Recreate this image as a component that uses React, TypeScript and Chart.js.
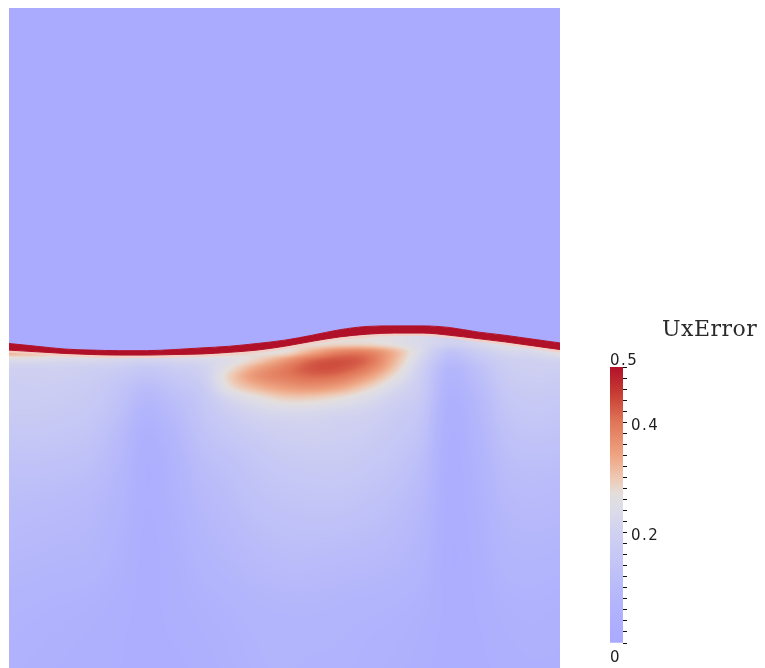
import React, { useEffect, useRef } from 'react';
import { Chart, registerables } from 'chart.js';

Chart.register(...registerables);

// Column positions across the domain (x) and sampling depths (y, top to bottom)
const colX = [0, 0.05, 0.1, 0.15, 0.2, 0.25, 0.3, 0.35, 0.4, 0.45, 0.5, 0.55, 0.6, 0.65, 0.7, 0.75, 0.8, 0.85, 0.9, 0.95, 1];
const rowY = [0.61, 0.59, 0.575, 0.56, 0.545, 0.53, 0.51, 0.49, 0.46, 0.42, 0.37, 0.3, 0.2, 0.1, 0];

// UxError samples: one row per depth in rowY, one value per column in colX
const uxError: number[][] = [
  [0.34, 0.33, 0.3, 0.28, 0.27, 0.26, 0.27, 0.28, 0.28, 0.28, 0.28, 0.27, 0.28, 0.28, 0.26, 0.23, 0.2, 0.22, 0.26, 0.27, 0.28],
  [0.34, 0.33, 0.3, 0.28, 0.27, 0.26, 0.27, 0.28, 0.29, 0.28, 0.28, 0.27, 0.28, 0.28, 0.26, 0.23, 0.2, 0.22, 0.26, 0.27, 0.28],
  [0.34, 0.33, 0.31, 0.3, 0.29, 0.28, 0.29, 0.3, 0.3, 0.27, 0.27, 0.33, 0.38, 0.38, 0.32, 0.23, 0.14, 0.18, 0.22, 0.23, 0.27],
  [0.24, 0.24, 0.23, 0.23, 0.22, 0.21, 0.22, 0.23, 0.25, 0.29, 0.35, 0.41, 0.43, 0.41, 0.32, 0.21, 0.11, 0.15, 0.19, 0.2, 0.21],
  [0.2, 0.2, 0.2, 0.19, 0.18, 0.16, 0.18, 0.2, 0.27, 0.34, 0.39, 0.43, 0.43, 0.39, 0.3, 0.19, 0.085, 0.125, 0.18, 0.19, 0.19],
  [0.19, 0.19, 0.19, 0.18, 0.16, 0.14, 0.16, 0.19, 0.29, 0.36, 0.39, 0.41, 0.4, 0.35, 0.27, 0.18, 0.07, 0.115, 0.17, 0.185, 0.18],
  [0.18, 0.185, 0.18, 0.17, 0.145, 0.11, 0.14, 0.17, 0.27, 0.32, 0.35, 0.36, 0.34, 0.29, 0.23, 0.17, 0.06, 0.1, 0.16, 0.175, 0.17],
  [0.18, 0.18, 0.175, 0.165, 0.135, 0.09, 0.12, 0.155, 0.22, 0.26, 0.29, 0.29, 0.27, 0.24, 0.2, 0.16, 0.05, 0.09, 0.15, 0.165, 0.16],
  [0.17, 0.17, 0.165, 0.155, 0.12, 0.065, 0.1, 0.145, 0.18, 0.21, 0.22, 0.22, 0.21, 0.2, 0.175, 0.145, 0.04, 0.08, 0.14, 0.155, 0.15],
  [0.155, 0.155, 0.15, 0.14, 0.1, 0.045, 0.08, 0.13, 0.155, 0.175, 0.19, 0.195, 0.19, 0.18, 0.16, 0.13, 0.035, 0.07, 0.125, 0.14, 0.135],
  [0.135, 0.135, 0.13, 0.12, 0.085, 0.035, 0.065, 0.11, 0.13, 0.15, 0.165, 0.17, 0.17, 0.16, 0.145, 0.11, 0.03, 0.06, 0.11, 0.12, 0.115],
  [0.115, 0.11, 0.105, 0.095, 0.07, 0.035, 0.055, 0.09, 0.11, 0.13, 0.14, 0.145, 0.145, 0.135, 0.12, 0.09, 0.03, 0.05, 0.09, 0.1, 0.095],
  [0.09, 0.085, 0.08, 0.075, 0.055, 0.03, 0.045, 0.07, 0.085, 0.1, 0.11, 0.11, 0.105, 0.1, 0.09, 0.07, 0.025, 0.04, 0.07, 0.075, 0.07],
  [0.065, 0.06, 0.055, 0.05, 0.04, 0.03, 0.04, 0.05, 0.06, 0.07, 0.075, 0.075, 0.07, 0.065, 0.06, 0.05, 0.03, 0.035, 0.05, 0.055, 0.05],
  [0.055, 0.05, 0.045, 0.04, 0.035, 0.025, 0.03, 0.04, 0.05, 0.06, 0.065, 0.06, 0.06, 0.055, 0.05, 0.04, 0.025, 0.03, 0.04, 0.045, 0.045],
];

// Free-surface band: upper and lower edge at each column
const bandTop = [0.59, 0.585, 0.58, 0.578, 0.577, 0.577, 0.579, 0.582, 0.585, 0.59, 0.596, 0.605, 0.615, 0.621, 0.622, 0.622, 0.619, 0.611, 0.605, 0.598, 0.591];
const bandBottom = [0.578, 0.575, 0.572, 0.57, 0.569, 0.569, 0.57, 0.571, 0.574, 0.578, 0.585, 0.594, 0.602, 0.607, 0.609, 0.609, 0.605, 0.599, 0.593, 0.586, 0.579];

// Colour bar
const fieldName = 'UxError';
const barRange = [0, 0.5];
const tickStep = 0.02;
const labelledTicks = [0.2, 0.4];
const endLabels = ['0', '0.5'];

// Cool-to-warm colour map (value -> rgb)
const cmapStops: [number, [number, number, number]][] = [
  [0.0, [170, 170, 255]],
  [0.05, [175, 177, 253]],
  [0.1, [184, 186, 250]],
  [0.15, [196, 198, 246]],
  [0.2, [208, 209, 240]],
  [0.24, [219, 219, 233]],
  [0.27, [228, 222, 220]],
  [0.3, [238, 200, 178]],
  [0.34, [238, 164, 130]],
  [0.4, [224, 118, 88]],
  [0.45, [200, 62, 52]],
  [0.5, [178, 18, 40]],
];
const bandRed = 'rgb(176, 16, 40)';

function colorAt(v: number): [number, number, number] {
  const lo = barRange[0];
  const hi = barRange[1];
  const q = Math.max(lo, Math.min(hi, v));
  for (let i = 0; i < cmapStops.length - 1; i++) {
    const [a, ca] = cmapStops[i];
    const [b, cb] = cmapStops[i + 1];
    if (q <= b) {
      const t = (q - a) / (b - a);
      return [0, 1, 2].map((k) => ca[k] + (cb[k] - ca[k]) * t) as [number, number, number];
    }
  }
  return cmapStops[cmapStops.length - 1][1];
}
const rgb = (c: number[]) => `rgb(${Math.round(c[0])}, ${Math.round(c[1])}, ${Math.round(c[2])})`;

// Cubic Hermite interpolation helpers for the sampled field
function slopes(p: number[], v: number[]): number[] {
  const n = p.length;
  return v.map((_, k) => {
    if (k === 0) return (v[1] - v[0]) / (p[1] - p[0]);
    if (k === n - 1) return (v[n - 1] - v[n - 2]) / (p[n - 1] - p[n - 2]);
    return (v[k + 1] - v[k - 1]) / (p[k + 1] - p[k - 1]);
  });
}
function findSeg(p: number[], q: number): number {
  const n = p.length;
  const asc = p[n - 1] > p[0];
  for (let i = 0; i < n - 1; i++) {
    if (asc ? q <= p[i + 1] : q >= p[i + 1]) return i;
  }
  return n - 2;
}
function hermiteAt(p: number[], v: number[], m: number[], q: number): number {
  const i = findSeg(p, q);
  const h = p[i + 1] - p[i];
  const t = Math.max(0, Math.min(1, (q - p[i]) / h));
  const t2 = t * t;
  const t3 = t2 * t;
  return (
    (2 * t3 - 3 * t2 + 1) * v[i] +
    (t3 - 2 * t2 + t) * h * m[i] +
    (-2 * t3 + 3 * t2) * v[i + 1] +
    (t3 - t2) * h * m[i + 1]
  );
}

// Paints the sampled UxError field under the surface datasets
const fieldPlugin = {
  id: 'uxErrorField',
  beforeDatasetsDraw(chart: any) {
    const { ctx, scales } = chart;
    const xs = scales.x;
    const ys = scales.y;
    const left = Math.round(xs.getPixelForValue(colX[0]));
    const right = Math.round(xs.getPixelForValue(colX[colX.length - 1]));
    const top = Math.round(ys.getPixelForValue(rowY[0]));
    const bottom = Math.round(ys.getPixelForValue(rowY[rowY.length - 1]));
    const w = right - left;
    const h = bottom - top;
    if (w <= 0 || h <= 0) return;

    const rowSlopes = uxError.map((row) => slopes(colX, row));
    const lut: number[][] = [];
    for (let i = 0; i <= 500; i++) lut.push(colorAt((i / 500) * barRange[1]));

    const off = document.createElement('canvas');
    off.width = w;
    off.height = h;
    const octx = off.getContext('2d')!;
    const img = octx.createImageData(w, h);

    for (let k = 0; k < w; k++) {
      const xv = xs.getValueForPixel(left + k + 0.5);
      const colVals = uxError.map((row, r) => hermiteAt(colX, row, rowSlopes[r], xv));
      const colSl = slopes(rowY, colVals);
      for (let j = 0; j < h; j++) {
        const yv = ys.getValueForPixel(top + j + 0.5);
        let v = hermiteAt(rowY, colVals, colSl, yv);
        v = Math.max(0, Math.min(barRange[1], v));
        const c = lut[Math.round((v / barRange[1]) * 500)];
        const idx = (j * w + k) * 4;
        img.data[idx] = c[0];
        img.data[idx + 1] = c[1];
        img.data[idx + 2] = c[2];
        img.data[idx + 3] = 255;
      }
    }
    octx.putImageData(img, 0, 0);
    ctx.save();
    ctx.drawImage(off, left, top);
    ctx.restore();
  },
};

// Letter spacing for the colour-bar text, plus its end labels and title
const barLabelsPlugin = {
  id: 'barLabels',
  beforeDraw(chart: any) {
    chart.ctx.letterSpacing = '1.5px';
  },
  afterDraw(chart: any) {
    const { ctx, chartArea, scales } = chart;
    const ys = scales.y;
    ctx.save();
    ctx.fillStyle = '#1e1e1e';
    ctx.font = '15px "DejaVu Sans"';
    ctx.textAlign = 'left';
    ctx.textBaseline = 'middle';
    ctx.fillText(endLabels[1], chartArea.left, ys.getPixelForValue(barRange[1]) - 6);
    ctx.fillText(endLabels[0], chartArea.left, ys.getPixelForValue(barRange[0]) + 15);
    ctx.letterSpacing = '0.5px';
    ctx.fillStyle = '#2a2a2a';
    ctx.font = '22px "DejaVu Serif"';
    ctx.textBaseline = 'alphabetic';
    ctx.fillText(fieldName, chartArea.left + 52, ys.getPixelForValue(barRange[1]) - 31);
    ctx.restore();
    ctx.letterSpacing = '0px';
  },
};

const pts = (ys: number[]) => ys.map((y, i) => ({ x: colX[i], y }));

export default function App() {
  const fieldRef = useRef<HTMLCanvasElement>(null);
  const barRef = useRef<HTMLCanvasElement>(null);

  useEffect(() => {
    const lineCommon = { pointRadius: 0, cubicInterpolationMode: 'monotone' as const, clip: 0 };
    const field = new Chart(fieldRef.current!, {
      type: 'line',
      data: {
        datasets: [
          {
            label: 'surface',
            data: pts(bandTop),
            fill: 'end',
            backgroundColor: rgb(colorAt(0)),
            borderColor: bandRed,
            borderWidth: 1,
            order: 1,
            ...lineCommon,
          },
          {
            label: 'band',
            data: pts(bandBottom),
            fill: 0,
            backgroundColor: bandRed,
            borderColor: bandRed,
            borderWidth: 1,
            order: 2,
            ...lineCommon,
          },
          {
            label: 'sublayer',
            data: pts(bandBottom),
            fill: false,
            borderColor: 'rgba(244, 206, 196, 0.9)',
            borderWidth: 6,
            order: 3,
            ...lineCommon,
          },
        ],
      },
      options: {
        responsive: false,
        animation: false,
        devicePixelRatio: 1,
        events: [],
        layout: { padding: { left: 9, top: 8, right: 205, bottom: 0 } },
        scales: {
          x: { type: 'linear', min: 0, max: 1, display: false },
          y: { type: 'linear', min: 0, max: 1.2, display: false },
        },
        plugins: { legend: { display: false }, tooltip: { enabled: false } },
      },
      plugins: [fieldPlugin],
    } as any);

    const bar = new Chart(barRef.current!, {
      type: 'bar',
      data: {
        labels: [fieldName],
        datasets: [
          {
            data: [[barRange[0], barRange[1]]],
            borderWidth: 0,
            barPercentage: 1,
            categoryPercentage: 1,
            backgroundColor: (c: any) => {
              const { chart } = c;
              const ys = chart.scales.y;
              if (!chart.chartArea || !ys) return rgb(colorAt(0));
              const g = chart.ctx.createLinearGradient(0, ys.getPixelForValue(barRange[0]), 0, ys.getPixelForValue(barRange[1]));
              cmapStops.forEach(([v, col]) => g.addColorStop((v - barRange[0]) / (barRange[1] - barRange[0]), rgb(col)));
              return g;
            },
          },
        ],
      },
      options: {
        responsive: false,
        animation: false,
        devicePixelRatio: 1,
        events: [],
        layout: { padding: { left: 50, top: 67, right: 102, bottom: 25 } },
        scales: {
          x: { display: false },
          y: {
            position: 'right',
            min: barRange[0],
            max: barRange[1],
            afterFit: (s: any) => {
              s.width = 40;
            },
            border: { display: false },
            grid: { drawOnChartArea: false, tickLength: 4, color: '#111', lineWidth: 1 },
            ticks: {
              stepSize: tickStep,
              autoSkip: false,
              maxTicksLimit: 100,
              padding: 4,
              labelOffset: 4,
              color: '#1e1e1e',
              font: { family: '"DejaVu Sans"', size: 15 },
              callback: (v: number) => {
                const t = labelledTicks.find((l) => Math.abs(l - v) < 1e-6);
                return t === undefined ? '' : String(t);
              },
            },
          },
        },
        plugins: { legend: { display: false }, tooltip: { enabled: false } },
      },
      plugins: [barLabelsPlugin],
    } as any);

    return () => {
      field.destroy();
      bar.destroy();
    };
  }, []);

  return (
    <div style={{ position: 'fixed', left: 0, top: 0, width: 765, height: 668, background: '#fff' }}>
      <canvas ref={fieldRef} width={765} height={668} style={{ position: 'absolute', left: 0, top: 0 }} />
      <canvas ref={barRef} width={205} height={368} style={{ position: 'absolute', left: 560, top: 300 }} />
    </div>
  );
}
